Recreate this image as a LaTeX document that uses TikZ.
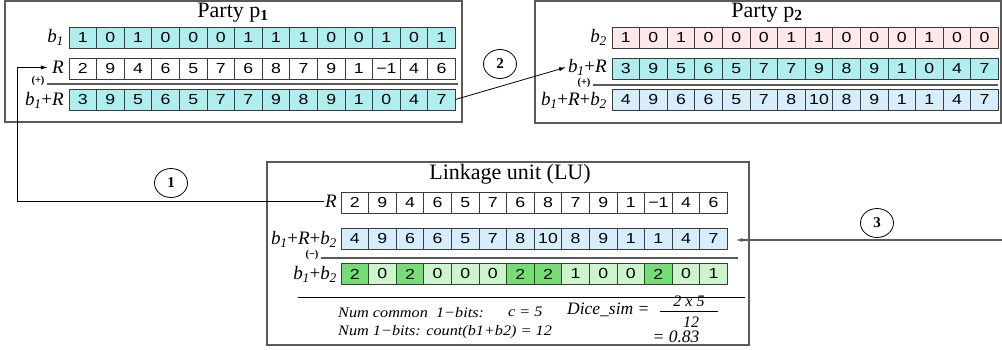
\documentclass[tikz,border=0pt]{standalone}
\usepackage{fontspec}
\setmainfont{Liberation Serif}
\newfontfamily\cellfont[FakeStretch=1.22]{Liberation Sans}
\newfontfamily\wideserif[FakeStretch=1.12]{Liberation Serif}
\usetikzlibrary{arrows.meta,shapes.geometric}
\definecolor{cyanc}{RGB}{174,238,238}
\definecolor{pinkc}{RGB}{255,232,232}
\definecolor{bluec}{RGB}{214,237,252}
\definecolor{greenl}{RGB}{204,245,204}
\definecolor{greend}{RGB}{118,220,118}
\definecolor{edgec}{RGB}{60,60,60}
\definecolor{boxc}{RGB}{90,90,90}
\newcommand\bs[1]{\textit{b}\kern-0.3pt\textsubscript{\textit{#1}}}
\newcommand\myrow[5]{%
  \foreach \v [count=\i] in {#5} {
    \node[cellbox, fill=#4] (#1-\i) at ({#2+(\i-0.5)*27.6}, #3) {\v};
  }}
\tikzset{
  cellbox/.style={draw=edgec, line width=0.7pt, minimum width=27.6pt, minimum height=21pt, inner sep=0pt, outer sep=0pt, font=\cellfont\fontsize{14.5}{14.5}\selectfont},
  boxline/.style={draw=boxc, line width=1.2pt},
  lbl/.style={font=\fontsize{19}{19}\selectfont, inner sep=1pt, anchor=east},
  ttl/.style={font=\fontsize{22}{22}\selectfont, inner sep=0pt},
  opl/.style={font=\bfseries\fontsize{10.5}{10.5}\selectfont, inner sep=0pt},
  sepline/.style={draw=boxc, line width=1.2pt},
  circnode/.style={draw, ellipse, line width=0.8pt, minimum width=33pt, minimum height=29pt, inner sep=0pt, font=\bfseries\fontsize{15}{15}\selectfont},
  conn/.style={draw, line width=0.8pt, -{Latex[length=7pt,width=4pt]}},
  small/.style={font=\wideserif\itshape\fontsize{14.5}{14.5}\selectfont, inner sep=0pt, anchor=west},
  big/.style={font=\itshape\fontsize{17.5}{17.5}\selectfont, inner sep=0pt},
  frac/.style={font=\itshape\fontsize{16}{16}\selectfont, inner sep=0pt},
}
\begin{document}
\begin{tikzpicture}[x=1pt, y=-1pt]
\useasboundingbox (0,0) rectangle (1002,350);
% ---------- Party p1 ----------
\draw[boxline] (5,1) rectangle (462,122);
\node[ttl] (p1title) at (233,13) {Party p\textsubscript{\textbf{1}}};
\myrow{pa}{69}{37.5}{cyanc}{1,0,1,0,0,0,1,1,1,0,0,1,0,1}
\myrow{pb}{69}{68.5}{white}{2,9,4,6,5,7,6,8,7,9,1,−1,4,6}
\myrow{pc}{69}{99.5}{cyanc}{3,9,5,6,5,7,7,9,8,9,1,0,4,7}
\node[lbl] (p1la) at (65,37.5) {\bs{1}};
\node[lbl] (p1lb) at (65,67.5) {\textit{R}};
\node[lbl] (p1lc) at (65,100) {\bs{1}+\textit{R}};
\node[opl] (p1op) at (38,81) {(+)};
\draw[sepline] (47,84) -- (458,84);
% ---------- Party p2 ----------
\draw[boxline] (535,1) rectangle (1001,123);
\node[ttl] (p2title) at (767,13) {Party p\textsubscript{\textbf{2}}};
\myrow{qa}{612}{37.5}{pinkc}{1,0,1,0,0,0,1,1,0,0,0,1,0,0}
\myrow{qb}{612}{68.5}{cyanc}{3,9,5,6,5,7,7,9,8,9,1,0,4,7}
\myrow{qc}{612}{99.5}{bluec}{4,9,6,6,5,7,8,10,8,9,1,1,4,7}
\node[lbl] (p2la) at (608,37.5) {\bs{2}};
\node[lbl] (p2lb) at (608,67) {\bs{1}+\textit{R}};
\node[lbl] (p2lc) at (608,100.5) {\bs{1}+\textit{R}+\bs{2}};
\node[opl] (p2op) at (584,83) {(+)};
\draw[sepline] (593,85) -- (998,85);
% ---------- Linkage unit ----------
\draw[boxline] (267,162) rectangle (749,345);
\node[ttl] (lutitle) at (510,174) {Linkage unit (LU)};
\myrow{la}{341}{202.5}{white}{2,9,4,6,5,7,6,8,7,9,1,−1,4,6}
\myrow{lb}{341}{239}{bluec}{4,9,6,6,5,7,8,10,8,9,1,1,4,7}
\foreach \v/\f [count=\i] in {2/greend,0/greenl,2/greend,0/greenl,0/greenl,0/greenl,2/greend,2/greend,1/greenl,0/greenl,0/greenl,2/greend,0/greenl,1/greenl} {
  \node[cellbox, fill=\f] (lc-\i) at ({341+(\i-0.5)*27.6}, 274) {\v};
}
\node[lbl] (lula) at (338,201) {\textit{R}};
\node[lbl] (lulb) at (338,239.5) {\bs{1}+\textit{R}+\bs{2}};
\node[lbl] (lulc) at (338,274.5) {\bs{1}+\bs{2}};
\node[opl] (luop) at (312,255) {(−)};
\draw[sepline] (321,258) -- (738,258);
\draw[line width=0.8pt] (298,297) -- (745,297);
\node[small] (t1) at (338,313) {Num common~~1−bits:};
\node[small] (t2) at (508,312) {c = 5};
\node[small] (t3) at (338,332) {Num 1−bits: count(b1+b2) = 12};
\node[big, anchor=west] (dice) at (567,310) {Dice\_sim =};
\node[frac] (num) at (689,301) {2 x 5};
\draw[line width=0.8pt] (660,311) -- (718,311);
\node[frac] (den) at (691,322) {12};
\node[big] (res) at (676,337) {= 0.83};
% ---------- connectors ----------
\coordinate (k1) at (17,200);
\draw[conn, shorten >=3pt] (lula.west) -- (lula.west -| k1) |- (p1lb.west);
\draw[conn, shorten >=1pt] (pc-14.east) -- (p2lb.west);
\coordinate (r3) at (1002,240);
\draw[conn, draw=boxc, line width=1.2pt, shorten >=8pt] (r3) -- (lb-14.east |- r3);
\node[circnode] (c1) at (171,183) {1};
\node[circnode] (c2) at (500,64) {2};
\node[circnode] (c3) at (877,223) {3};
\end{tikzpicture}
\end{document}
